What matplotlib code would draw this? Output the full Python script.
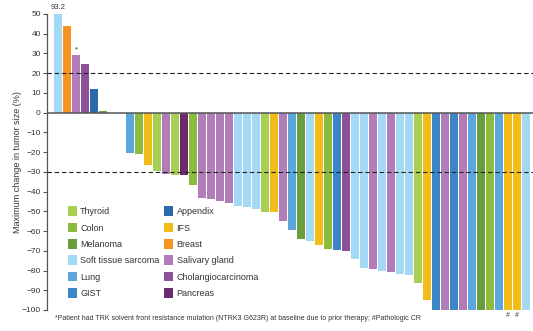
"""Waterfall plot of best change in tumour size, coloured by tumour type."""

import numpy as np
import matplotlib
matplotlib.use("Agg")
import matplotlib.pyplot as plt
from matplotlib.patches import Patch

FONT = ["Liberation Sans Narrow", "Liberation Sans", "DejaVu Sans"]
plt.rcParams["font.family"] = FONT

tumor_colors = {
    "Thyroid": "#a9cf52",
    "Colon": "#8dbb3e",
    "Melanoma": "#6a9d3d",
    "Soft tissue sarcoma": "#a3d9f5",
    "Lung": "#5ba6dd",
    "GIST": "#3b86c7",
    "Appendix": "#2a6aab",
    "IFS": "#f2bd18",
    "Breast": "#f7941f",
    "Salivary gland": "#b07db9",
    "Cholangiocarcinoma": "#8c5198",
    "Pancreas": "#6b2c6f",
}

# one entry per patient, best response order (None = no change recorded)
tumor_type = [
    "Soft tissue sarcoma", "Breast", "Salivary gland", "Cholangiocarcinoma",
    "Appendix", "Melanoma", None, None,
    "Lung", "Colon", "IFS", "Thyroid", "Salivary gland", "Thyroid",
    "Pancreas", "Colon", "Salivary gland", "Salivary gland",
    "Salivary gland", "Salivary gland", "Soft tissue sarcoma",
    "Soft tissue sarcoma", "Soft tissue sarcoma", "Thyroid", "IFS",
    "Salivary gland", "Lung", "Melanoma", "Soft tissue sarcoma", "IFS",
    "Colon", "GIST", "Cholangiocarcinoma", "Soft tissue sarcoma",
    "Soft tissue sarcoma", "Salivary gland", "Soft tissue sarcoma",
    "Salivary gland", "Soft tissue sarcoma", "Soft tissue sarcoma",
    "Thyroid", "IFS", "GIST", "Salivary gland", "GIST", "Salivary gland",
    "Lung", "Melanoma", "Colon", "Lung", "IFS", "IFS",
    "Soft tissue sarcoma",
]
change = [
    93.2, 44, 29, 24.5, 12, 1, np.nan, np.nan,
    -20.2, -21, -26.4, -29.8, -31.3, -31.8, -31.8, -36.6,
    -43.4, -43.6, -45, -45.7, -47.4, -47.8, -48.8, -50.3, -50.3,
    -54.9, -59.4, -63.8, -65.1, -67.2, -69.2, -69.6, -70.2,
    -74, -78.9, -79.4, -80.1, -80.8, -81.8, -82.5, -86.2, -94.7,
    -100, -100, -100, -100, -100, -100, -100, -100, -100, -100, -100,
]
star_idx = [2]        # solvent front resistance mutation
hash_idx = [50, 51]   # pathologic CR

ymin, ymax = -100, 50

fig = plt.figure(figsize=(5.33, 3.31), dpi=100)
ax = fig.add_axes([47 / 533, 21 / 331, 486 / 533, 296 / 331])

x = np.arange(len(change))
heights = np.clip(np.array(change, dtype=float), ymin, ymax)
colors = [tumor_colors.get(t, "white") for t in tumor_type]
ax.bar(x, heights, width=0.84, color=colors, linewidth=0, zorder=2)

ax.axhline(0, color="#555555", lw=1.1, zorder=3)
ax.axhline(20, color="#222222", lw=0.8, ls=(0, (4, 2.5)), zorder=3)
ax.axhline(-30, color="#222222", lw=0.8, ls=(0, (4, 2.5)), zorder=3)

# value of the clipped bar, plus footnote markers
ax.text(x[0], ymax + 1.5, f"{change[0]:.1f}", ha="center", va="bottom",
        fontsize=5.5, color="#333333", clip_on=False)
for i in star_idx:
    ax.text(x[i], heights[i] + 1, "*", ha="center", va="bottom",
            fontsize=5.5, color="#333333")
for i in hash_idx:
    ax.text(x[i], ymin - 1.2, "#", ha="center", va="top",
            fontsize=5, color="#333333", clip_on=False)

ax.set_xlim(-1.22, 52.78)
ax.set_ylim(ymin, ymax)
ax.set_yticks(np.arange(ymin, ymax + 1, 10))
ax.tick_params(axis="y", length=3, width=0.8, color="#555555",
               labelsize=6, labelcolor="#333333", pad=1.5)
ax.set_xticks([])
for side in ["top", "right", "bottom"]:
    ax.spines[side].set_visible(False)
ax.spines["left"].set_color("#555555")
ax.spines["left"].set_linewidth(0.9)
ax.set_ylabel("Maximum change in tumor size (%)", fontsize=6.5,
              color="#333333")
ax.yaxis.set_label_coords(-0.051, 0.5)

handles = [Patch(facecolor=c, edgecolor="none", label=n)
           for n, c in tumor_colors.items()]
leg = ax.legend(handles=handles, ncol=2, loc="upper left",
                bbox_to_anchor=(0.033, 0.365), frameon=False, fontsize=6.5,
                handlelength=1.0, handleheight=1.25, handletextpad=0.4,
                labelspacing=0.72, columnspacing=0.5, borderpad=0)
for t in leg.get_texts():
    t.set_color("#333333")

fig.text(55 / 533, 13 / 331,
         "*Patient had TRK solvent front resistance mutation (NTRK3 G623R) "
         "at baseline due to prior therapy; #Pathologic CR",
         fontsize=5, color="#333333", va="center")

fig.savefig("out.png", dpi=100)
